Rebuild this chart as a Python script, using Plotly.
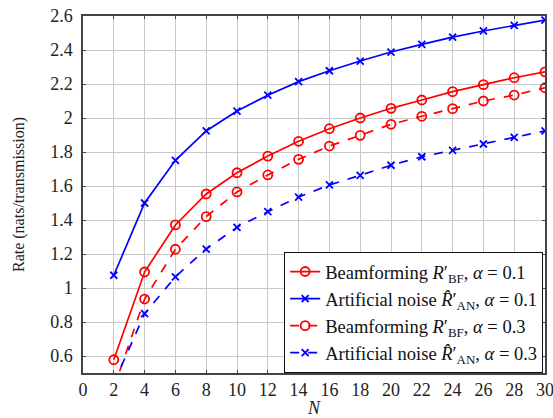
import plotly.graph_objects as go

N = [2, 4, 6, 8, 10, 12, 14, 16, 18, 20, 22, 24, 26, 28, 30]
bf_01 = [0.578, 1.094, 1.371, 1.553, 1.678, 1.776, 1.863, 1.937, 2.0, 2.057, 2.106, 2.155, 2.196, 2.237, 2.271]
an_01 = [1.075, 1.50, 1.751, 1.924, 2.041, 2.134, 2.214, 2.278, 2.335, 2.388, 2.433, 2.476, 2.512, 2.545, 2.576]
bf_03 = [0.41, 0.935, 1.228, 1.42, 1.565, 1.665, 1.757, 1.835, 1.898, 1.963, 2.010, 2.055, 2.1, 2.135, 2.178]
an_03 = [0.44, 0.849, 1.066, 1.229, 1.357, 1.449, 1.535, 1.606, 1.663, 1.722, 1.772, 1.81, 1.847, 1.886, 1.924]

names = [
    "Beamforming <i>R</i>′<sub>BF</sub>, <i>α</i> = 0.1",
    "Artificial noise <i>R̂</i>′<sub>AN</sub>, <i>α</i> = 0.1",
    "Beamforming <i>R</i>′<sub>BF</sub>, <i>α</i> = 0.3",
    "Artificial noise <i>R̂</i>′<sub>AN</sub>, <i>α</i> = 0.3",
]
series = [bf_01, an_01, bf_03, an_03]
colors = ["#ff0000", "#0000ff", "#ff0000", "#0000ff"]
dashes = ["solid", "solid", "dash", "dash"]
symbols = ["circle-open", "x-thin-open", "circle-open", "x-thin-open"]
sizes = [9, 7, 9, 7]

fig = go.Figure()
for y, nm, c, d, s, sz in zip(series, names, colors, dashes, symbols, sizes):
    fig.add_trace(go.Scatter(
        x=N, y=y, name=nm, mode="lines+markers",
        line=dict(color=c, width=1.7, dash=d),
        marker=dict(symbol=s, size=sz, color=c, line=dict(color=c, width=1.8)),
    ))

font = "Liberation Serif, DejaVu Serif, serif"
fig.update_layout(
    width=553, height=418,
    margin=dict(l=83, r=8, t=16, b=45),
    paper_bgcolor="white", plot_bgcolor="white",
    font=dict(family=font, size=18, color="#222"),
    showlegend=True,
    legend=dict(x=0.996, y=0.0, xanchor="right", yanchor="bottom",
                bgcolor="white", bordercolor="#111", borderwidth=1,
                font=dict(family=font, size=18.5, color="#111")),
)
fig.update_xaxes(range=[0, 30], tick0=0, dtick=2, showgrid=True, gridcolor="#c8c8c8",
                 showline=True, linecolor="#444", linewidth=1.5, mirror="ticks",
                 ticks="inside", ticklen=3, tickcolor="#444", zeroline=False,
                 automargin=False, ticklabeloverflow="allow",
                 title=dict(text="<i>N</i>", font=dict(size=18), standoff=10))
fig.update_yaxes(range=[0.5, 2.6], tick0=0.6, dtick=0.2, showgrid=True, gridcolor="#c8c8c8",
                 showline=True, linecolor="#444", linewidth=1.5, mirror="ticks",
                 ticks="inside", ticklen=3, tickcolor="#444", zeroline=False,
                 automargin=False, ticklabelstandoff=5, ticklabeloverflow="allow",
                 title=dict(text="Rate (nats/transmission)", font=dict(size=16), standoff=22))

fig.write_html("out.html", config={"displayModeBar": False},
               post_script="document.body.style.margin='0';document.body.style.padding='0';")
